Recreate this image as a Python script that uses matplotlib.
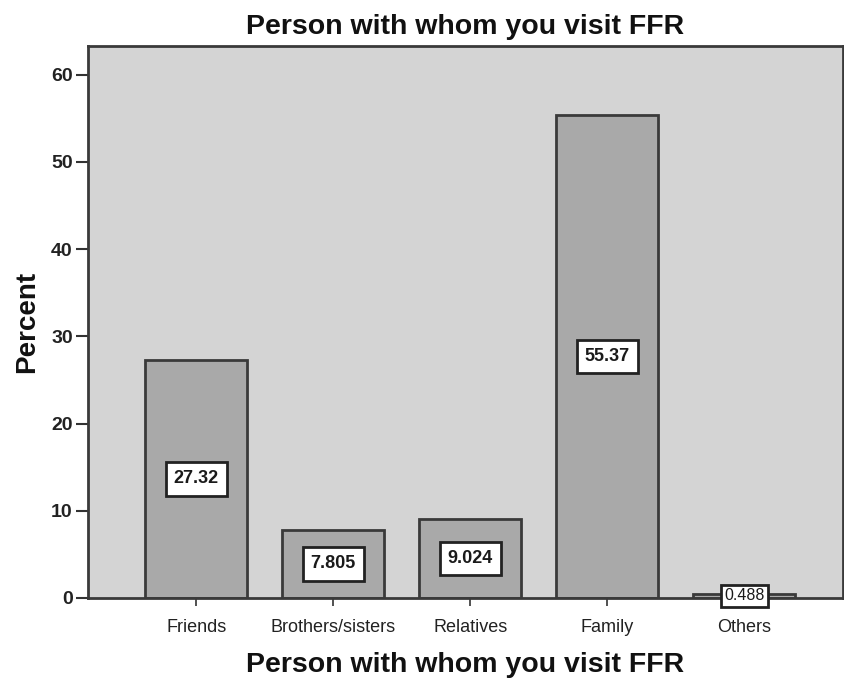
import matplotlib.pyplot as plt

# share of respondents by companion type
categories = ['Friends', 'Brothers/sisters', 'Relatives', 'Family', 'Others']
percent = [27.32, 7.805, 9.024, 55.37, 0.488]
value_labels = ['27.32', '7.805', '9.024', '55.37', '0.488']
y_ticks = [0, 10, 20, 30, 40, 50, 60]

plt.rcParams['font.family'] = ['Liberation Sans', 'DejaVu Sans']

fig = plt.figure(figsize=(8.44, 6.84), dpi=100)
ax = fig.add_axes([88 / 844, 1 - 598 / 684, 755 / 844, 552 / 684])
ax.set_facecolor('#d4d4d4')

x = range(len(categories))
ax.bar(x, percent, width=0.745, color='#a9a9a9', edgecolor='#3a3a3a', linewidth=2, zorder=2)

# value boxes in the middle of each bar; thin bars get a compact box
for xi, v, lab in zip(x, percent, value_labels):
    small = v < 2
    ax.text(xi, v / 2, lab, ha='center', va='center',
            fontsize=11.5 if small else 13, fontweight='normal' if small else 'bold',
            color='#1a1a1a', zorder=3,
            bbox=dict(boxstyle='square,pad=%s' % (0.2 if small else 0.45),
                      facecolor='white', edgecolor='#222222', linewidth=2))

ax.set_xlim(-0.79, 4.72)
ax.set_ylim(0, 63.3)
ax.set_xticks(list(x))
ax.set_xticklabels(categories, fontsize=13, color='#222222')
ax.set_yticks(y_ticks)
ax.set_yticklabels([str(t) for t in y_ticks], fontsize=14, fontweight='bold', color='#222222')
ax.tick_params(axis='y', length=9, width=1.5, color='#333333', pad=2)
ax.tick_params(axis='x', length=6, width=1.2, color='#333333', pad=9)

for side in ['left', 'top', 'bottom', 'right']:
    ax.spines[side].set_linewidth(2)
    ax.spines[side].set_color('#3a3a3a')

ax.set_title('Person with whom you visit FFR', fontsize=20.5, fontweight='bold', color='#111111', pad=9)
ax.set_xlabel('Person with whom you visit FFR', fontsize=20.5, fontweight='bold', color='#111111', labelpad=12)
ax.set_ylabel('Percent', fontsize=20, fontweight='bold', color='#111111', labelpad=8)

fig.savefig('out.png', dpi=100)
